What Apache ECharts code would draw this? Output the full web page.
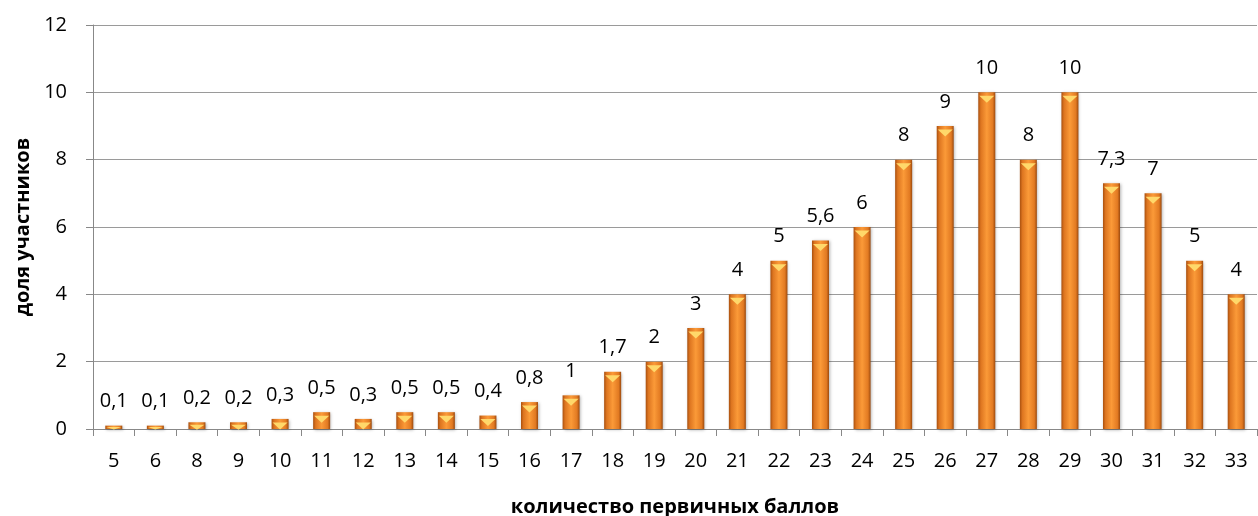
<!DOCTYPE html>
<html>
<head>
<meta charset="utf-8">
<script src="https://cdn.jsdelivr.net/npm/echarts@6/dist/echarts.min.js"></script>
<style>
  html, body { margin: 0; padding: 0; background: #fff; }
  #chart { width: 1258px; height: 516px; }
</style>
</head>
<body>
<div id="chart"></div>
<script>
const scores = ['5', '6', '8', '9', '10', '11', '12', '13', '14', '15', '16', '17', '18', '19',
  '20', '21', '22', '23', '24', '25', '26', '27', '28', '29', '30', '31', '32', '33']
const shares = [0.1, 0.1, 0.2, 0.2, 0.3, 0.5, 0.3, 0.5, 0.5, 0.4, 0.8, 1, 1.7, 2,
  3, 4, 5, 5.6, 6, 8, 9, 10, 8, 10, 7.3, 7, 5, 4]
const yTicks = { min: 0, max: 12, interval: 2 }

const chart = echarts.init(document.getElementById('chart'))
const font = '"Open Sans", "Liberation Sans", sans-serif'

// bevel on top of each bar; flatter on very short bars so it stays inside
const bevels = shares.map((v) => {
  const h = Math.min(7, v * 25)
  return { value: v, symbolSize: [15, h], symbolOffset: [0, h / 2] }
})

chart.setOption({
  animation: false,
  grid: { left: 93, right: 1, top: 25, bottom: 87, outerBoundsMode: 'none' },
  xAxis: {
    type: 'category',
    data: scores,
    name: 'количество первичных баллов',
    nameLocation: 'middle',
    nameGap: 68,
    nameTextStyle: { color: '#000', fontFamily: font, fontSize: 20, fontWeight: 'bold' },
    axisLine: { lineStyle: { color: '#888', width: 1 } },
    axisTick: { show: true, length: 7, lineStyle: { color: '#888' } },
    axisLabel: { color: '#000', fontFamily: font, fontSize: 20, margin: 22 },
  },
  yAxis: {
    type: 'value',
    min: yTicks.min,
    max: yTicks.max,
    interval: yTicks.interval,
    name: 'доля участников',
    nameLocation: 'middle',
    nameGap: 60,
    nameTextStyle: { color: '#000', fontFamily: font, fontSize: 20, fontWeight: 'bold' },
    axisLine: { show: true, lineStyle: { color: '#888', width: 1 } },
    axisTick: { show: true, length: 7, lineStyle: { color: '#888' } },
    axisLabel: { color: '#000', fontFamily: font, fontSize: 20, margin: 26 },
    splitLine: { lineStyle: { color: '#9a9a9a', width: 1 } },
  },
  series: [
    {
      type: 'bar',
      data: shares,
      barWidth: 17,
      z: 2,
      itemStyle: {
        color: new echarts.graphic.LinearGradient(0, 0, 1, 0, [
          { offset: 0, color: '#a9500f' },
          { offset: 0.15, color: '#dd7520' },
          { offset: 0.5, color: '#fb9a38' },
          { offset: 0.85, color: '#e27a22' },
          { offset: 1, color: '#9c4a0e' },
        ]),
        shadowColor: 'rgba(0,0,0,0.3)',
        shadowBlur: 3,
        shadowOffsetX: 1,
        shadowOffsetY: 1,
      },
      label: {
        show: true,
        position: 'top',
        distance: 14,
        color: '#000',
        fontFamily: font,
        fontSize: 20,
        formatter: p => String(p.value).replace('.', ','),
      },
    },
    {
      type: 'pictorialBar',
      data: bevels,
      symbol: 'triangle',
      symbolRotate: 180,
      symbolPosition: 'end',
      z: 3,
      silent: true,
      itemStyle: { color: '#ffd86a' },
    },
  ],
})
</script>
</body>
</html>
